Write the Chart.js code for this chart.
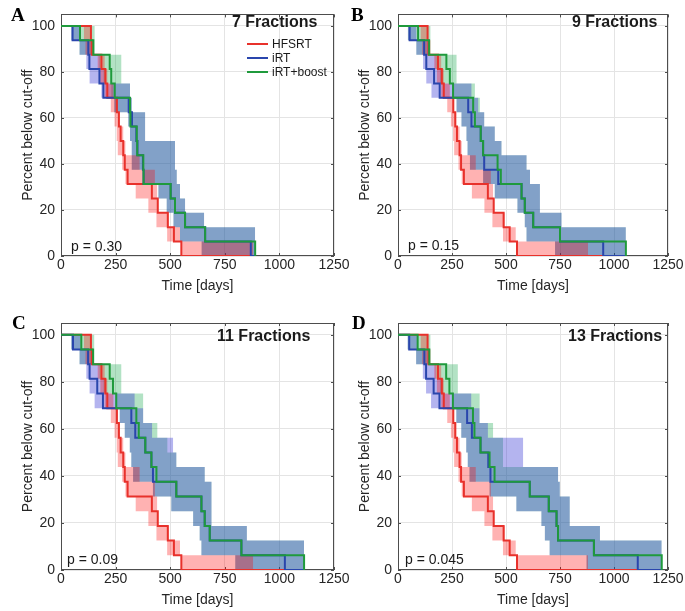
<!DOCTYPE html>
<html>
<head>
<meta charset="utf-8">
<script src="https://cdn.jsdelivr.net/npm/chart.js@4.4.1/dist/chart.umd.min.js"></script>
<style>
  body { margin: 0; background: #fff; width: 685px; height: 611px; position: relative; overflow: hidden;
         font-family: 'Liberation Sans', Arial, sans-serif; }
  canvas { position: absolute; }
  .lbl { position: absolute; white-space: nowrap; line-height: 1; color: #1a1a1a; }
  .letter { font-family: 'Liberation Serif', 'Times New Roman', serif; font-weight: bold; font-size: 19px; color: #000; }
  .title { font-weight: bold; font-size: 16px; }
  .pval { font-size: 14px; }
  .leg { font-size: 12px; line-height: 14px; }
  .swatch { position: absolute; height: 2px; width: 21px; }
</style>
</head>
<body>
<script>
// step levels (16 patients per arm)
const levels = [93.75, 87.5, 81.25, 75, 68.75, 62.5, 56.25, 50, 43.75, 37.5, 31.25, 25, 18.75, 12.5, 6.25, 0];
const xTicks = [0, 250, 500, 750, 1000, 1250];
const yTicks = [0, 20, 40, 60, 80, 100];

const seriesNames = ['HFSRT', 'iRT', 'iRT+boost'];
const panelLetters = ['A', 'B', 'C', 'D'];
const panelTitles = ['7 Fractions', '9 Fractions', '11 Fractions', '13 Fractions'];
const pValues = ['p = 0.30', 'p = 0.15', 'p = 0.09', 'p = 0.045'];

// HFSRT is the same in every panel
const hfsrtTimes = [137, 141, 185, 203, 212, 256, 265, 273, 285, 292, 305, 416, 443, 489, 517, 551];
const hfsrtLow = [105, 112, 168, 180, 200, 228, 245, 255, 260, 280, 295, 342, 400, 437, 486, 551];
const hfsrtHigh = [139, 150, 200, 212, 240, 258, 270, 285, 295, 360, 430, 440, 446, 494, 545, 880];
const hfsrtEnd = [869, 950, 1025, 1110];
const panelEnd = [889, 1055, 1113, 1221];

// 7 fractions
const irtTimesA = [53, 125, 130, 176, 194, 310, 325, 345, 350, 375, 378, 502, 522, 568, 660, 869];
const irtLowA = [48, 85, 116, 131, 185, 244, 308, 316, 324, 324, 377, 446, 484, 515, 545, 644];
const irtHighA = [90, 140, 178, 200, 316, 324, 385, 385, 522, 522, 530, 545, 568, 655, 889, 889];
const boostTimesA = [87, 148, 223, 230, 246, 316, 318, 347, 349, 377, 378, 502, 522, 568, 660, 889];
const boostLowA = [48, 85, 175, 195, 230, 244, 308, 316, 324, 324, 377, 446, 484, 515, 545, 644];
const boostHighA = [154, 154, 276, 276, 316, 324, 385, 385, 522, 522, 530, 545, 568, 655, 889, 889];

// 9 fractions
const irtTimesB = [54, 121, 131, 167, 193, 325, 340, 383, 394, 399, 464, 572, 587, 626, 750, 950];
const irtLowB = [46, 85, 116, 131, 155, 271, 294, 317, 322, 333, 394, 448, 553, 587, 595, 727];
const irtHighB = [85, 139, 178, 201, 340, 371, 399, 448, 479, 595, 611, 657, 657, 757, 1055, 1055];
const boostTimesB = [93, 144, 224, 240, 255, 348, 356, 383, 394, 461, 476, 572, 587, 626, 750, 1055];
const boostLowB = [46, 85, 175, 195, 250, 271, 294, 317, 322, 333, 394, 448, 553, 587, 595, 727];
const boostHighB = [150, 150, 271, 271, 356, 379, 399, 448, 479, 595, 611, 657, 657, 757, 1055, 1055];

// 11 fractions
const irtTimesC = [55, 124, 131, 166, 192, 322, 340, 386, 414, 421, 528, 643, 658, 681, 826, 1025];
const irtLowC = [47, 85, 116, 131, 154, 269, 292, 315, 322, 330, 421, 505, 605, 635, 643, 798];
const irtHighC = [90, 139, 177, 200, 337, 376, 417, 513, 528, 658, 689, 689, 689, 851, 1113, 1113];
const boostTimesC = [93, 147, 223, 238, 253, 345, 356, 386, 414, 437, 528, 643, 658, 681, 826, 1113];
const boostLowC = [47, 85, 175, 195, 250, 269, 292, 315, 322, 330, 421, 505, 605, 635, 643, 798];
const boostHighC = [152, 152, 276, 276, 376, 376, 441, 487, 528, 658, 689, 689, 689, 851, 1113, 1113];

// 13 fractions
const irtTimesD = [52, 122, 130, 165, 192, 320, 342, 382, 418, 428, 610, 698, 734, 741, 907, 1110];
const irtLowD = [45, 84, 115, 130, 153, 270, 293, 316, 323, 331, 424, 548, 664, 680, 702, 873];
const irtHighD = [88, 137, 176, 200, 339, 377, 416, 579, 579, 741, 749, 795, 795, 935, 1221, 1221];
const boostTimesD = [91, 145, 223, 238, 254, 347, 354, 382, 424, 447, 610, 698, 734, 741, 907, 1221];
const boostLowD = [45, 84, 175, 195, 250, 270, 293, 316, 323, 331, 424, 548, 664, 680, 702, 873];
const boostHighD = [150, 150, 277, 277, 378, 378, 440, 486, 486, 741, 749, 795, 795, 935, 1221, 1221];

const irtTimes = [irtTimesA, irtTimesB, irtTimesC, irtTimesD];
const irtLow = [irtLowA, irtLowB, irtLowC, irtLowD];
const irtHigh = [irtHighA, irtHighB, irtHighC, irtHighD];
const boostTimes = [boostTimesA, boostTimesB, boostTimesC, boostTimesD];
const boostLow = [boostLowA, boostLowB, boostLowC, boostLowD];
const boostHigh = [boostHighA, boostHighB, boostHighC, boostHighD];

const lineColors = ['#e8312b', '#2a46ad', '#1f9a3c'];
const bandColors = ['rgba(255,0,0,0.3)', 'rgba(40,40,210,0.35)', 'rgba(0,160,60,0.3)'];
const FONT = "'Liberation Sans', Arial, sans-serif";

// canvas boxes and plot insets
const layout = [
  { left: 0, top: 0, w: 352, h: 300, padTop: 9, padRight: 18, xAxisH: 44, xTitlePad: 5.6 },
  { left: 337, top: 0, w: 348, h: 300, padTop: 9, padRight: 17, xAxisH: 44, xTitlePad: 5.6 },
  { left: 0, top: 300, w: 352, h: 311, padTop: 23, padRight: 18, xAxisH: 41, xTitlePad: 2.6 },
  { left: 337, top: 300, w: 348, h: 311, padTop: 23, padRight: 17, xAxisH: 41, xTitlePad: 2.6 }
];

// Build step curve points from drop times
function curve(times, end) {
  const pts = [{ x: 0, y: 100 }];
  times.forEach((t, i) => pts.push({ x: t, y: levels[i] }));
  pts.push({ x: end, y: 0 });
  return pts;
}

function lineSet(label, times, end, color, order) {
  return { label, data: curve(times, end), borderColor: color, borderWidth: 2, stepped: true,
           pointRadius: 0, fill: false, order };
}

function bandSets(lo, hi, color, order) {
  const end = hi[hi.length - 1];
  const base = { borderColor: 'transparent', borderWidth: 0, stepped: true, pointRadius: 0, order };
  return [
    Object.assign({ data: curve(lo, end), backgroundColor: color, fill: '+1' }, base),
    Object.assign({ data: curve(hi, end), fill: false }, base)
  ];
}

// Axis box with inward ticks, drawn under the curves
const boxPlugin = {
  id: 'box',
  beforeDatasetsDraw(chart) {
    const { ctx, chartArea: a, scales: { x, y } } = chart;
    ctx.save();
    ctx.strokeStyle = '#4d4d4d';
    ctx.lineWidth = 1;
    ctx.strokeRect(Math.round(a.left) + 0.5, Math.round(a.top) + 0.5,
                   Math.round(a.right - a.left) - 1, Math.round(a.bottom - a.top) - 1);
    ctx.beginPath();
    x.ticks.forEach(t => {
      const px = Math.round(x.getPixelForValue(t.value)) + 0.5;
      ctx.moveTo(px, a.bottom); ctx.lineTo(px, a.bottom - 3);
      ctx.moveTo(px, a.top); ctx.lineTo(px, a.top + 3);
    });
    y.ticks.forEach(t => {
      const py = Math.round(y.getPixelForValue(t.value)) + 0.5;
      ctx.moveTo(a.left, py); ctx.lineTo(a.left + 3, py);
      ctx.moveTo(a.right, py); ctx.lineTo(a.right - 3, py);
    });
    ctx.stroke();
    ctx.restore();
  }
};

function makePanel(i) {
  const L = layout[i];
  const cv = document.createElement('canvas');
  cv.width = L.w; cv.height = L.h;
  cv.style.left = L.left + 'px'; cv.style.top = L.top + 'px';
  document.body.appendChild(cv);

  const datasets = [
    lineSet(seriesNames[2], boostTimes[i], panelEnd[i], lineColors[2], 0),
    lineSet(seriesNames[1], irtTimes[i], panelEnd[i], lineColors[1], 1),
    lineSet(seriesNames[0], hfsrtTimes, hfsrtEnd[i], lineColors[0], 2),
    ...bandSets(hfsrtLow, hfsrtHigh, bandColors[0], 3),
    ...bandSets(irtLow[i], irtHigh[i], bandColors[1], 4),
    ...bandSets(boostLow[i], boostHigh[i], bandColors[2], 5)
  ];

  new Chart(cv.getContext('2d'), {
    type: 'line',
    data: { datasets },
    options: {
      responsive: false,
      animation: false,
      devicePixelRatio: 1,
      events: [],
      layout: { padding: { left: 0, top: L.padTop, right: L.padRight, bottom: 0 } },
      plugins: { legend: { display: false }, tooltip: { enabled: false } },
      scales: {
        x: {
          type: 'linear', min: 0, max: 1250,
          afterBuildTicks: s => { s.ticks = xTicks.map(v => ({ value: v })); },
          afterFit: s => { s.height = L.xAxisH; },
          grid: { color: '#e4e4e4', drawTicks: false },
          border: { display: false },
          ticks: { padding: 1, color: '#262626', font: { family: FONT, size: 14 }, maxRotation: 0,
                   autoSkip: false, callback: v => String(v) },
          title: { display: true, text: 'Time [days]', color: '#262626', font: { family: FONT, size: 14 },
                   padding: { top: 0, bottom: L.xTitlePad } }
        },
        y: {
          type: 'linear', min: 0, max: 105,
          afterBuildTicks: s => { s.ticks = yTicks.map(v => ({ value: v })); },
          afterFit: s => { s.width = 61; },
          grid: { color: '#e4e4e4', drawTicks: false },
          border: { display: false },
          ticks: { padding: 6, color: '#262626', font: { family: FONT, size: 14 }, callback: v => String(v) },
          title: { display: true, text: 'Percent below cut-off', color: '#262626', font: { family: FONT, size: 14 },
                   padding: { top: 20, bottom: 0 } }
        }
      }
    },
    plugins: [boxPlugin]
  });
}

function addText(cls, text, left, top) {
  const d = document.createElement('div');
  d.className = 'lbl ' + cls;
  d.textContent = text;
  d.style.left = left + 'px';
  d.style.top = top + 'px';
  document.body.appendChild(d);
  return d;
}

[0, 1, 2, 3].forEach(makePanel);

// panel letters, titles and p-values
const letterPos = [[11, 5], [351, 5], [12, 313], [352, 313]];
const titlePos = [[232, 13.5], [572, 13.5], [217, 328], [568, 327.5]];
const pPos = [[71, 239], [408, 238], [67, 551.5], [405, 551.5]];
panelLetters.forEach((t, i) => addText('letter', t, letterPos[i][0], letterPos[i][1]));
panelTitles.forEach((t, i) => addText('title', t, titlePos[i][0], titlePos[i][1]));
pValues.forEach((t, i) => addText('pval', t, pPos[i][0], pPos[i][1]));

// legend in panel A
const legendY = [43.5, 57.5, 72];
seriesNames.forEach((name, k) => {
  const s = document.createElement('div');
  s.className = 'swatch';
  s.style.left = '247px';
  s.style.top = (legendY[k] - 1) + 'px';
  s.style.background = lineColors[k];
  document.body.appendChild(s);
  addText('leg', name, 272, legendY[k] - 7);
});
</script>
</body>
</html>
